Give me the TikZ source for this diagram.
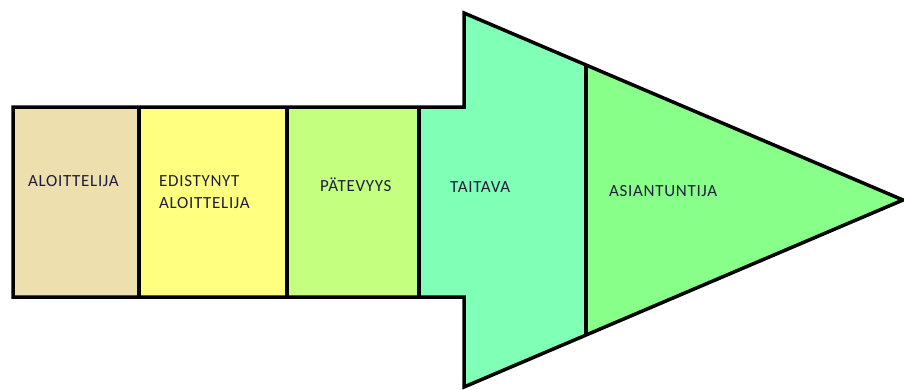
\documentclass[tikz,border=0pt]{standalone}
\usepackage{fontspec}
\setmainfont{Carlito}
\usetikzlibrary{calc}
\definecolor{tanfill}{HTML}{EEDFAF}
\definecolor{yellowfill}{HTML}{FFFF80}
\definecolor{limefill}{HTML}{C4FF80}
\definecolor{mintfill}{HTML}{80FFB6}
\definecolor{greenfill}{HTML}{88FF88}
\definecolor{labeltext}{HTML}{1E1E3C}
\begin{document}
\begin{tikzpicture}[x=1pt,y=-1pt,
  outline/.style={draw=black,line width=3.5pt,line join=miter},
  stage/.style={anchor=base west,inner sep=0pt,text=labeltext,
    font=\fontsize{17}{21.5}\selectfont\addfontfeature{LetterSpace=4},align=left}]
\useasboundingbox (0,0) rectangle (904,389);
% corner points of the arrow
\coordinate (bl) at (13,107);
\coordinate (bl2) at (13,297);
\coordinate (sh) at (464,107);
\coordinate (sh2) at (464,297);
\coordinate (headtop) at (464,13);
\coordinate (headbot) at (464,387);
\coordinate (tip) at (903,200);
\coordinate (d1) at (139,107);
\coordinate (d1b) at (139,297);
\coordinate (d2) at (287,107);
\coordinate (d2b) at (287,297);
\coordinate (d3) at (419,107);
\coordinate (d3b) at (419,297);
\coordinate (d4) at ($(headtop)!0.278!(tip)$);
\coordinate (d4b) at ($(headbot)!0.278!(tip)$);
% filled stages
\fill[tanfill] (bl) rectangle (d1b);
\fill[yellowfill] (d1) rectangle (d2b);
\fill[limefill] (d2) rectangle (d3b);
\fill[mintfill] (d3) -- (sh) -- (headtop) -- (d4) -- (d4b) -- (headbot) -- (sh2) -- (d3b) -- cycle;
\fill[greenfill] (d4) -- (tip) -- (d4b) -- cycle;
% outline and dividers
\draw[outline] (bl) -- (sh) -- (headtop) -- (tip) -- (headbot) -- (sh2) -- (bl2) -- cycle;
\draw[outline] (d1) -- (d1b);
\draw[outline] (d2) -- (d2b);
\draw[outline] (d3) -- (d3b);
\draw[outline] (d4) -- (d4b);
% labels
\node[stage] (s1) at (28,186) {ALOITTELIJA};
\node[stage] (s2) at (159,208) {EDISTYNYT\\ALOITTELIJA};
\node[stage] (s3) at (320,191) {PÄTEVYYS};
\node[stage] (s4) at (450,192) {TAITAVA};
\node[stage] (s5) at (609,196) {ASIANTUNTIJA};
\end{tikzpicture}
\end{document}
